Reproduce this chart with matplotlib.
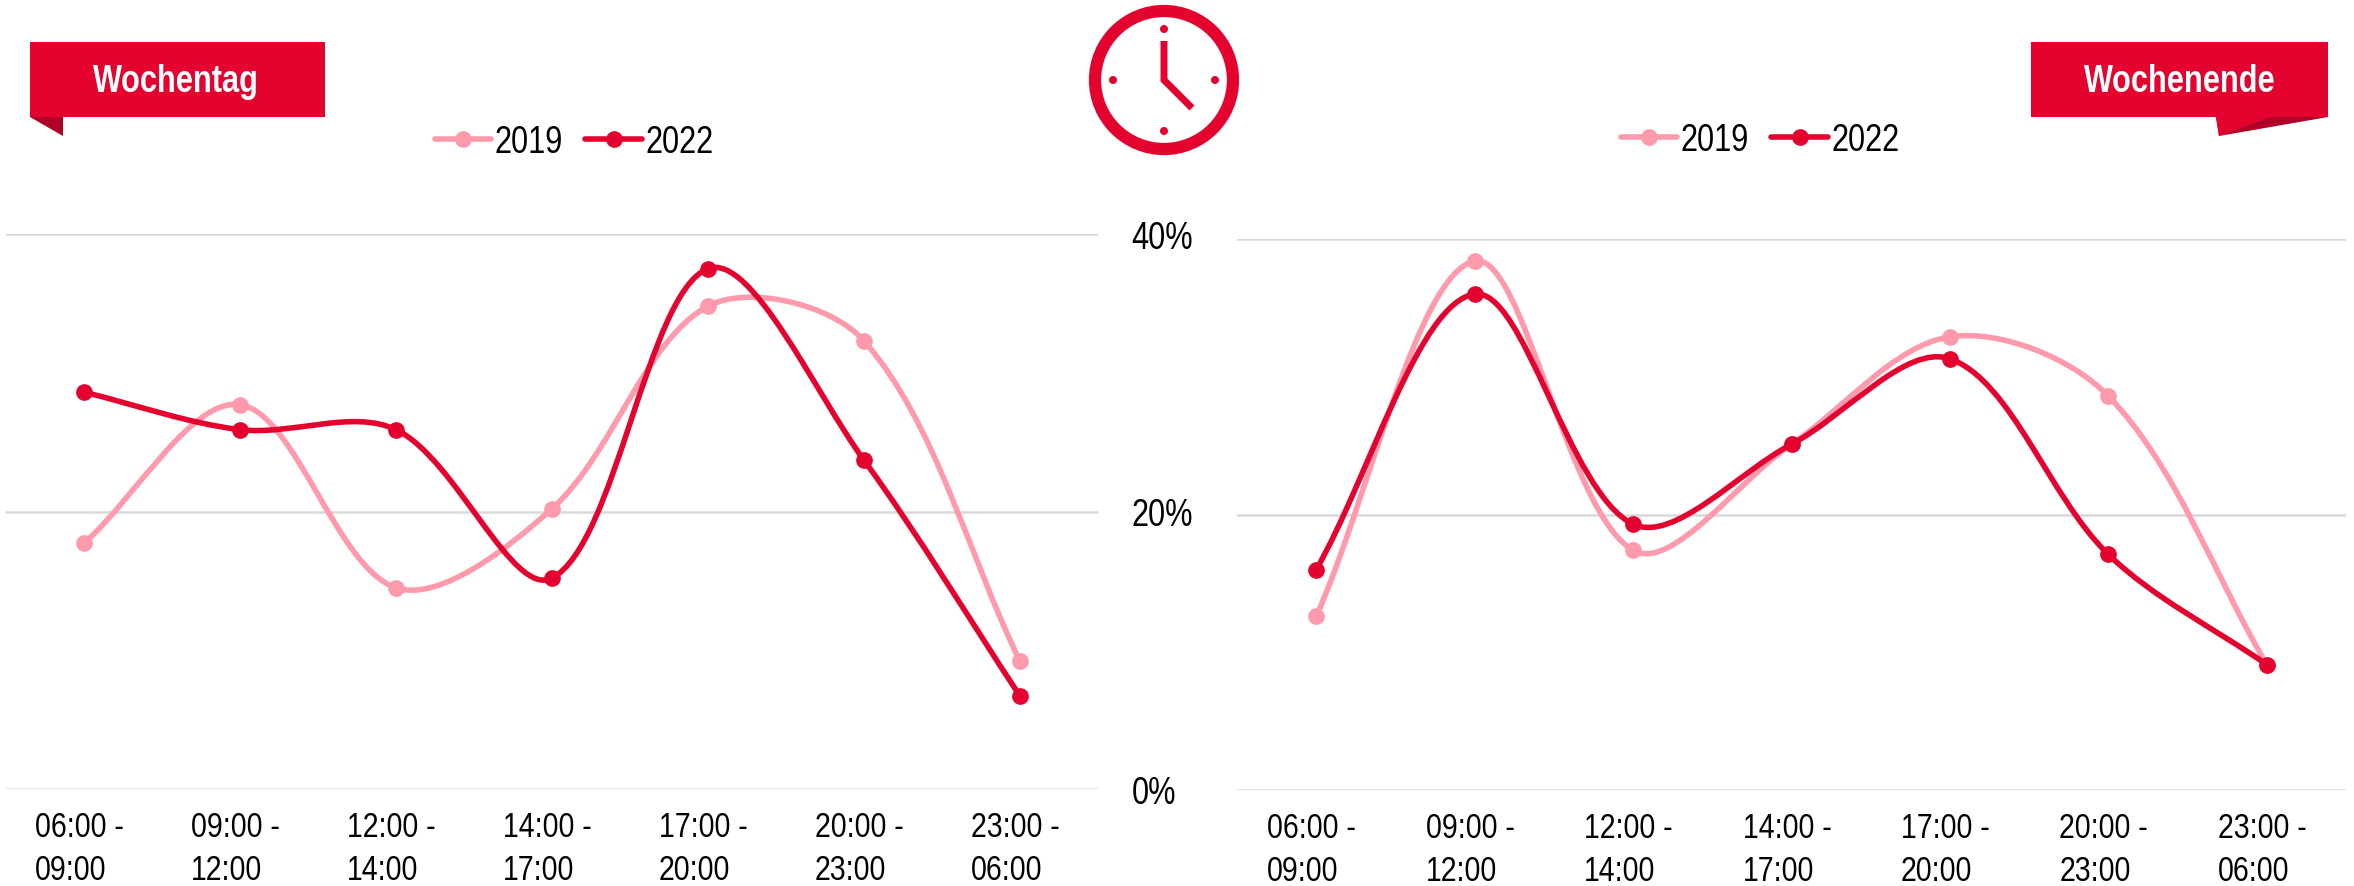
import os
import tempfile
import matplotlib
matplotlib.use('Agg')
import matplotlib.pyplot as plt
from matplotlib import font_manager
from matplotlib.path import Path
from matplotlib.patches import PathPatch, Polygon, Rectangle, Circle
from matplotlib.lines import Line2D
from matplotlib.transforms import ScaledTranslation
from fontTools.ttLib import TTFont

# Values
slots = ['06:00 -\n09:00', '09:00 -\n12:00', '12:00 -\n14:00', '14:00 -\n17:00',
         '17:00 -\n20:00', '20:00 -\n23:00', '23:00 -\n06:00']
weekday_2019 = [17.7, 27.7, 14.5, 20.2, 34.8, 32.3, 9.2]
weekday_2022 = [28.6, 25.9, 25.9, 15.2, 37.5, 23.7, 6.7]
weekend_2019 = [12.6, 38.4, 17.4, 25.1, 32.9, 28.6, 9.1]
weekend_2022 = [16.0, 36.0, 19.3, 25.1, 31.3, 17.1, 9.1]
y_ticks = [0, 20, 40]
years = ['2019', '2022']

W, H = 2354, 887
RED = '#E4032E'
PINK = '#FF99AC'
DARK = '#B00028'
GRID = '#D9D9D9'
LW = 4.0
MS = 11


def make_narrow(weight, family='Narrow Sans', factor=0.82):
    # No Arial Narrow here, so squeeze Liberation Sans and register the result
    src = font_manager.findfont(font_manager.FontProperties(family='Liberation Sans', weight=weight))
    font = TTFont(src)
    glyf = font['glyf']
    for name in font.getGlyphOrder():
        g = glyf[name]
        if g.isComposite():
            for comp in g.components:
                comp.x = int(comp.x * factor)
        elif g.numberOfContours > 0:
            g.coordinates.scale((factor, 1))
            g.program.fromBytecode(b'')
        g.recalcBounds(glyf)
    hmtx = font['hmtx']
    for name, (adv, lsb) in hmtx.metrics.items():
        hmtx[name] = (int(adv * factor), int(lsb * factor))
    for tag in ('fpgm', 'prep', 'cvt ', 'hdmx', 'VDMX', 'LTSH', 'kern', 'GPOS'):
        if tag in font:
            del font[tag]
    for rec in font['name'].names:
        if rec.nameID in (1, 4, 16):
            rec.string = family
    out = os.path.join(tempfile.mkdtemp(), f'narrow-{weight}.ttf')
    font.save(out)
    font_manager.fontManager.addfont(out)


make_narrow('normal')
make_narrow('bold')
plt.rcParams['font.family'] = ['Narrow Sans', 'Liberation Sans']


def px_axes(fig, left, right, top, bottom):
    return fig.add_axes([left / W, 1 - bottom / H, (right - left) / W, (bottom - top) / H])


def smooth_path(xs, ys, sx, sy):
    # Excel style smoothed line, tangents weighted by segment length in pixels
    def dist(i, j):
        return (((xs[i] - xs[j]) * sx) ** 2 + ((ys[i] - ys[j]) * sy) ** 2) ** 0.5

    verts = [(xs[0], ys[0])]
    codes = [Path.MOVETO]
    n = len(xs)
    for i in range(n - 1):
        a = max(i - 1, 0)
        d = min(i + 2, n - 1)
        c = i + 1
        f1 = dist(i, c) / (dist(a, i) + dist(i, c)) / 3
        f2 = dist(i, c) / (dist(i, c) + dist(c, d)) / 3
        verts.append((xs[i] + (xs[c] - xs[a]) * f1, ys[i] + (ys[c] - ys[a]) * f1))
        verts.append((xs[c] - (xs[d] - xs[i]) * f2, ys[c] - (ys[d] - ys[i]) * f2))
        verts.append((xs[c], ys[c]))
        codes += [Path.CURVE4] * 3
    return Path(verts, codes)


def draw_panel(fig, ax, v2019, v2022, sx, sy):
    xs = list(range(len(slots)))
    for vals, col, z in [(v2019, PINK, 3), (v2022, RED, 4)]:
        ax.add_patch(PathPatch(smooth_path(xs, vals, sx, sy), fc='none', ec=col, lw=LW, zorder=z,
                               clip_on=False, capstyle='round'))
        ax.plot(xs, vals, ls='none', marker='o', ms=MS, mfc=col, mec=col, zorder=z, clip_on=False)
    ax.set_xlim(-0.5, 6.5)
    ax.set_ylim(0, 40)
    ax.set_yticks(y_ticks)
    ax.set_xticks(xs)
    ax.set_xticklabels(slots, fontsize=25, ma='left', linespacing=1.38)
    ax.tick_params(axis='both', length=0)
    ax.tick_params(axis='x', pad=15)
    # labels sit a little left of their tick in the original
    shift = ScaledTranslation(-4.5 / 100, 0, fig.dpi_scale_trans)
    for lab in ax.get_xticklabels():
        lab.set_transform(lab.get_transform() + shift)
    ax.grid(axis='y', color=GRID, lw=1.8)
    ax.set_axisbelow(True)
    for s in ax.spines.values():
        s.set_visible(False)


def draw_legend(ax, over, x, y):
    handles = [Line2D([], [], color=c, lw=LW, marker='o', ms=MS, solid_capstyle='round')
               for c in (PINK, RED)]
    ax.legend(handles, years, loc='center', bbox_to_anchor=(x, y), bbox_transform=over.transData,
              ncol=2, frameon=False, fontsize=27, handlelength=1.5, handletextpad=0.1,
              columnspacing=0.6, borderpad=0, borderaxespad=0)


fig = plt.figure(figsize=(W / 100, H / 100), dpi=100, facecolor='white')

left = px_axes(fig, 6, 1098, 235, 790)
draw_panel(fig, left, weekday_2019, weekday_2022, 156, 13.875)
left.yaxis.tick_right()
left.set_yticklabels([f'{t}%' for t in y_ticks], fontsize=27)
left.tick_params(axis='y', pad=24)

right = px_axes(fig, 1237, 2346, 240, 791)
draw_panel(fig, right, weekend_2019, weekend_2022, 158.4, 13.775)
right.set_yticklabels([])

# Overlay in pixel coordinates for banners and the clock icon
over = fig.add_axes([0, 0, 1, 1], zorder=5)
over.set_xlim(0, W)
over.set_ylim(H, 0)
over.axis('off')

draw_legend(left, over, 574, 143)
draw_legend(right, over, 1760, 141)

# Banners
over.add_patch(Rectangle((30, 43), 295, 75, fc=RED, ec='none'))
over.add_patch(Polygon([(30, 118), (63, 118), (63, 137)], fc=DARK, ec='none'))
over.text(176, 82, 'Wochentag', color='white', fontsize=27, fontweight='bold', ha='center', va='center')

over.add_patch(Rectangle((2031, 43), 297, 75, fc=RED, ec='none'))
over.add_patch(Polygon([(2216, 118), (2328, 118), (2219, 137)], fc=DARK, ec='none'))
over.add_patch(Polygon([(2216, 118), (2270, 118), (2219, 137)], fc=RED, ec='none'))
over.text(2180, 82, 'Wochenende', color='white', fontsize=27, fontweight='bold', ha='center', va='center')

# Clock
cx, cy = 1164, 81
over.add_patch(Circle((cx, cy), 69, fc='none', ec=RED, lw=8.8))
for dx, dy in [(0, -51), (0, 51), (-51, 0), (51, 0)]:
    over.add_patch(Circle((cx + dx, cy + dy), 4, fc=RED, ec='none'))
over.plot([cx, cx, cx + 28], [cy - 39, cy, cy + 28], color=RED, lw=5, solid_joinstyle='miter',
          solid_capstyle='butt')

fig.savefig('out.png', dpi=100)
